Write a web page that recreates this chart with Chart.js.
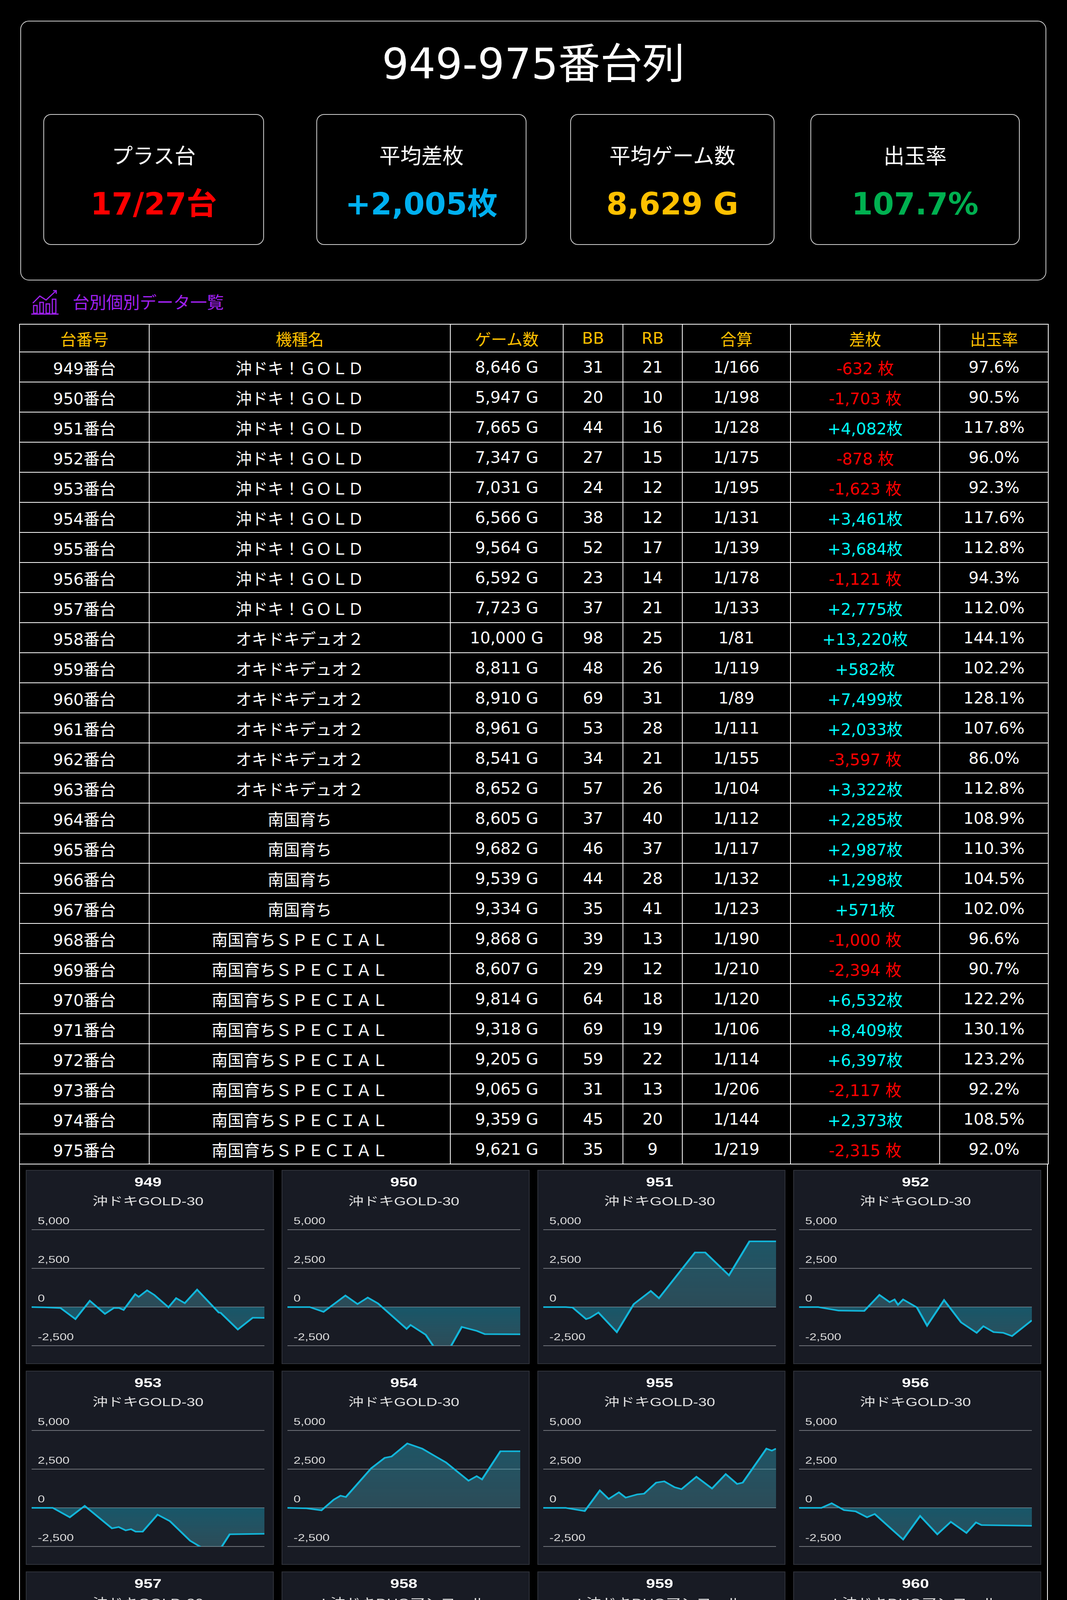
<!DOCTYPE html>
<html lang="ja">
<head>
<meta charset="utf-8">
<title>949-975番台列</title>
<script src="https://cdn.jsdelivr.net/npm/chart.js@4.4.1/dist/chart.umd.min.js"></script>
<style>
html, body { margin: 0; padding: 0; background: #000; }
body {
    width: 2732px; height: 6664px; position: relative; overflow: hidden;
    font-family: "DejaVu Sans", "Noto Sans CJK JP", sans-serif; color: #fff;
}
.summary {
    position: absolute; left: 52px; top: 53px; width: 2627px; height: 665px;
    box-sizing: border-box; border: 2px solid #cfcfcf; border-radius: 22px;
}
.summary h1 {
    position: absolute; left: 0; right: 0; top: 49px; margin: 0;
    text-align: center; font-weight: normal; font-size: 108px; line-height: 120px;
}
.stat {
    position: absolute; top: 292px; height: 335px; box-sizing: border-box;
    border: 2px solid #cfcfcf; border-radius: 20px; text-align: center;
}
.stat .label { position: absolute; left: 0; right: 0; top: 72px; font-size: 54px; line-height: 70px; }
.stat .value { position: absolute; left: 0; right: 0; top: 178px; font-size: 78px; line-height: 100px; font-weight: bold; }
.section {
    position: absolute; left: 186px; top: 750px; font-size: 43px; line-height: 50px; color: #a020f0;
}
.section-icon { position: absolute; left: 78px; top: 740px; }
table.units {
    position: absolute; left: 49px; top: 829px; width: 2634px;
    border-collapse: collapse; table-layout: fixed;
}
table.units th, table.units td {
    border: 2px solid #fff; padding: 0; text-align: center; font-size: 41px; font-weight: normal;
    white-space: nowrap; overflow: hidden;
}
table.units th { color: #ffc000; height: 69px; }
table.units td { height: 75px; }
.frame {
    position: absolute; left: 49px; top: 2979px; width: 2634px; height: 3629px;
    box-sizing: border-box; border: 2px solid #fff; border-top: none;
}
.rule { position: absolute; left: 49px; width: 2634px; height: 3px; background: #fff; }
.card {
    position: absolute; width: 635px; height: 497px; box-sizing: border-box;
    background: #181b24; border: 2px solid #30333b;
}
.card canvas { position: absolute; left: 0; top: 0; width: 631px !important; height: 493px !important; }
</style>
</head>
<body>

<div class="summary"><h1 id="pageTitle"></h1></div>
<div class="stat" style="left:111px; width:565px;"><div class="label">プラス台</div><div class="value" id="statPlus" style="color:#ff0000"></div></div>
<div class="stat" style="left:810px; width:538px;"><div class="label">平均差枚</div><div class="value" id="statDiff" style="color:#00b0f0"></div></div>
<div class="stat" style="left:1460px; width:523px;"><div class="label">平均ゲーム数</div><div class="value" id="statGames" style="color:#ffc000"></div></div>
<div class="stat" style="left:2075px; width:536px;"><div class="label">出玉率</div><div class="value" id="statRate" style="color:#00b050"></div></div>

<svg class="section-icon" width="75" height="67" viewBox="0 0 75 67">
  <g fill="none" stroke="#a020f0" stroke-width="3">
    <rect x="8" y="42" width="9" height="20"/>
    <rect x="24" y="34" width="9" height="28"/>
    <rect x="40" y="38" width="9" height="24"/>
    <rect x="56" y="26" width="9" height="36"/>
    <polyline points="6,36 24,18 40,28 66,4"/>
    <polyline points="58,4 66,4 66,12"/>
    <line x1="2" y1="64" x2="72" y2="64"/>
  </g>
</svg>
<div class="section">台別個別データ一覧</div>

<table class="units" id="unitTable">
  <colgroup>
    <col style="width:332px"><col style="width:771px"><col style="width:289px"><col style="width:153px">
    <col style="width:152px"><col style="width:277px"><col style="width:382px"><col style="width:278px">
  </colgroup>
  <thead><tr id="headRow"></tr></thead>
  <tbody id="tableBody"></tbody>
</table>

<div class="frame"></div>
<div class="rule" style="top:4253px"></div>
<div class="rule" style="top:5527px"></div>
<div id="cards"></div>

<script>
// ---- table data ----
const headers = ['台番号', '機種名', 'ゲーム数', 'BB', 'RB', '合算', '差枚', '出玉率'];
const unitNos = [949, 950, 951, 952, 953, 954, 955, 956, 957, 958, 959, 960, 961, 962,
                 963, 964, 965, 966, 967, 968, 969, 970, 971, 972, 973, 974, 975];
const modelNames = [
    '沖ドキ！ＧＯＬＤ', '沖ドキ！ＧＯＬＤ', '沖ドキ！ＧＯＬＤ', '沖ドキ！ＧＯＬＤ', '沖ドキ！ＧＯＬＤ',
    '沖ドキ！ＧＯＬＤ', '沖ドキ！ＧＯＬＤ', '沖ドキ！ＧＯＬＤ', '沖ドキ！ＧＯＬＤ',
    'オキドキデュオ２', 'オキドキデュオ２', 'オキドキデュオ２', 'オキドキデュオ２', 'オキドキデュオ２', 'オキドキデュオ２',
    '南国育ち', '南国育ち', '南国育ち', '南国育ち',
    '南国育ちＳＰＥＣＩＡＬ', '南国育ちＳＰＥＣＩＡＬ', '南国育ちＳＰＥＣＩＡＬ', '南国育ちＳＰＥＣＩＡＬ',
    '南国育ちＳＰＥＣＩＡＬ', '南国育ちＳＰＥＣＩＡＬ', '南国育ちＳＰＥＣＩＡＬ', '南国育ちＳＰＥＣＩＡＬ'
];
const gameCounts = [8646, 5947, 7665, 7347, 7031, 6566, 9564, 6592, 7723, 10000, 8811, 8910, 8961, 8541,
                    8652, 8605, 9682, 9539, 9334, 9868, 8607, 9814, 9318, 9205, 9065, 9359, 9621];
const bbCounts = [31, 20, 44, 27, 24, 38, 52, 23, 37, 98, 48, 69, 53, 34, 57, 37, 46, 44, 35, 39, 29, 64, 69, 59, 31, 45, 35];
const rbCounts = [21, 10, 16, 15, 12, 12, 17, 14, 21, 25, 26, 31, 28, 21, 26, 40, 37, 28, 41, 13, 12, 18, 19, 22, 13, 20, 9];
const totalOdds = [166, 198, 128, 175, 195, 131, 139, 178, 133, 81, 119, 89, 111, 155,
                   104, 112, 117, 132, 123, 190, 210, 120, 106, 114, 206, 144, 219];
const coinDiffs = [-632, -1703, 4082, -878, -1623, 3461, 3684, -1121, 2775, 13220, 582, 7499, 2033, -3597,
                   3322, 2285, 2987, 1298, 571, -1000, -2394, 6532, 8409, 6397, -2117, 2373, -2315];
const payoutRates = [97.6, 90.5, 117.8, 96.0, 92.3, 117.6, 112.8, 94.3, 112.0, 144.1, 102.2, 128.1, 107.6, 86.0,
                     112.8, 108.9, 110.3, 104.5, 102.0, 96.6, 90.7, 122.2, 130.1, 123.2, 92.2, 108.5, 92.0];

// ---- small chart data: [x (% of the day), 差枚] ----
const chartModels = [
    '沖ドキGOLD-30', '沖ドキGOLD-30', '沖ドキGOLD-30', '沖ドキGOLD-30', '沖ドキGOLD-30',
    '沖ドキGOLD-30', '沖ドキGOLD-30', '沖ドキGOLD-30', '沖ドキGOLD-30',
    'L沖ドキDUOアンコール', 'L沖ドキDUOアンコール', 'L沖ドキDUOアンコール',
    'L沖ドキDUOアンコール', 'L沖ドキDUOアンコール', 'L沖ドキDUOアンコール',
    'L南国育ち', 'L南国育ち', 'L南国育ち', 'L南国育ち',
    'L南国育ちSP', 'L南国育ちSP', 'L南国育ちSP', 'L南国育ちSP',
    'L南国育ちSP', 'L南国育ちSP', 'L南国育ちSP', 'L南国育ちSP'
];
const yTicks = [-2500, 0, 2500, 5000];

const s949 = [[0,0],[6,-20],[12.4,-60],[18.8,-777],[25,405],[31.5,-440],[35.3,-60],[37.6,-60],[39.5,-185],[44.5,830],[46,660],[49.6,1080],[52.7,785],[58.8,-17],[62.1,575],[65.8,253],[71.1,1125],[80.4,-355],[81.2,-370],[88.6,-1450],[95,-690],[100,-700]];
const s950 = [[0,0],[9.6,0],[15.5,-310],[24.9,745],[30.1,195],[34.5,615],[38.9,235],[51.2,-1410],[52.9,-1160],[59.4,-1790],[63.5,-2700],[69.6,-2700],[74.9,-1285],[81.3,-1540],[84.8,-1750],[100,-1760]];
const s951 = [[0,0],[9.6,0],[12.6,-30],[18.4,-777],[20,-700],[23.7,-355],[31.6,-1620],[38.9,195],[46.2,1040],[49.7,575],[65.2,3530],[69.6,3530],[79.8,2055],[88.6,4250],[100,4250]];
const s952 = [[0,0],[8.2,0],[17,-230],[28,-250],[34.5,785],[38.9,320],[41,490],[42.5,150],[44.7,490],[50.6,-20],[55,-1200],[62.3,450],[69.6,-990],[76.3,-1665],[79.2,-1240],[83.6,-1620],[87.7,-1665],[91.5,-1875],[100,-860]];
const s953 = [[0,0],[9.1,0],[16.4,-610],[22.8,125],[34.5,-1325],[37.4,-1240],[40.4,-1455],[42.7,-1380],[44.7,-1540],[47.7,-1540],[54.1,-440],[59.4,-860],[68.1,-2130],[73.4,-2600],[81.3,-2600],[85.1,-1710],[100,-1680]];
const s954 = [[0,0],[8.2,-30],[14.6,-160],[19.9,530],[22.8,785],[25.1,700],[36,2560],[41.8,3235],[44.7,3320],[51.5,4165],[57.9,3830],[63.7,3320],[68.1,2940],[77.8,1755],[81.3,2050],[83.6,1840],[91.5,3660],[100,3660]];
const s955 = [[0,0],[9.6,0],[17.8,-210],[24.3,1125],[28.1,575],[32.5,1000],[35.4,660],[40.4,870],[43.3,915],[48.5,1630],[52,1715],[56.4,1335],[59.4,1210],[65.8,2010],[72.5,1250],[78.4,2180],[83.3,1545],[85.7,1630],[95.9,3830],[98.2,3700],[100,3830]];
const s956 = [[0,0],[9.6,0],[14,295],[19.3,-145],[24.3,-230],[29.2,-610],[32.5,-400],[44.7,-2045],[52,-525],[59.4,-1710],[65.2,-905],[71.9,-1620],[76,-945],[78.4,-1115],[100,-1160]];
const s957 = [[0,0],[9.1,0],[14,575],[16,500],[19,955],[20.5,900],[24.3,1545],[27.2,1410],[33.9,575],[43.3,2560],[50,1925],[53.5,1590],[57.9,1210],[59.9,1210],[63.2,1760],[67.5,1210],[76,3090],[79.2,2900],[82.7,2855],[85.7,2600],[90.1,3070],[93,3070],[100,2900]];
const s958 = [[0,0],[12.6,0],[16.4,-525],[19,-820],[22.8,-145],[27.2,-905],[31,-1495],[34.5,-440],[36.8,-860],[39.2,-740],[46.2,870],[52,-145],[58.5,-860],[67.3,2520],[71,4120],[75.4,5500],[100,13220]];
const s959 = [[0,0],[9.6,0],[12,-230],[14.9,320],[21.9,-735],[25.7,-60],[33,-1240],[35.9,-780],[46.2,-2085],[48.5,-1495],[50,-1750],[54.1,-945],[56.4,-1410],[60.8,-440],[63.7,-565],[68.1,-1070],[70.2,-820],[72.5,-1070],[76.3,-355],[78.4,-400],[84.8,-1240],[100,575]];
const s960 = [[0,0],[5.8,-30],[8.2,-60],[15.5,-990],[22.8,490],[25.1,450],[30.1,955],[33,575],[36.5,1040],[42.7,25],[47.1,915],[49.1,785],[53.5,1505],[57.3,870],[60.2,1335],[63.7,2435],[75.4,6700],[100,7499]];
const s961 = [[0,0],[10.2,0],[15.5,-650],[17.8,110],[27.2,2265],[28.7,2180],[32.2,2730],[36.5,2220],[42.4,3550],[52,1970],[59,1210],[61.7,1545],[63,1545],[69.6,2900],[71.6,2560],[75.4,3615],[79.8,2855],[82.2,3365],[88.6,2140],[100,2140]];
const s962 = [[0,0],[9.6,0],[17,-1200],[22.8,110],[30.1,-820],[32.5,-440],[35.1,-860],[38.3,-60],[45.3,-1070],[49.1,-690],[51.5,-730],[55.6,-1495],[59.4,-905],[66.1,-1960],[71,-990],[76.9,-1705],[82.2,-2550],[100,-3597]];
const s963 = [[0,0],[9.1,0],[15.5,-440],[19.9,-1160],[23.7,-780],[27.8,-1370],[30.1,-1285],[35.1,-1835],[40.4,-735],[41.8,-950],[56.4,4000],[62.9,3070],[66.7,3615],[70.2,3025],[72.5,3320],[80.4,1970],[88.6,3450],[100,3490]];
const s964 = [[0,0],[8.2,0],[13.5,365],[21.3,-1115],[30.1,1840],[34.5,2645],[40.4,2010],[42.7,1970],[45.6,2265],[48.5,2055],[57.9,405],[61.7,1335],[64.3,1290],[68.1,870],[74,2010],[76,1920],[78.1,2475],[80.4,2095],[83.3,2435],[85.7,2220],[88.6,2690],[92,2600],[100,2435]];
const s965 = [[0,0],[9.1,60],[11.1,-110],[14,525],[16.1,500],[20.8,-235],[24.9,-660],[29.5,-1125],[35.4,735],[36.5,800],[41.8,1840],[45.6,1290],[50.6,2685],[52,2560],[54.4,2730],[58.8,2135],[62.9,3110],[65.8,2685],[68.1,2980],[73.1,1925],[76,2600],[79.2,2430],[83.6,3065],[87.1,4040],[94.4,3195],[100,3110]];
const s966 = [[0,0],[6.7,-70],[12.6,-405],[18.4,145],[22.2,735],[26.3,355],[30.7,60],[36,-405],[40.4,-955],[42.4,-660],[44.7,-790],[50,-1590],[57.9,820],[63.7,-280],[70.2,2640],[76.9,1920],[79.2,2050],[85.7,1120],[87.7,1585],[90.1,1455],[92.1,1540],[100,1330]];
const s967 = [[0,0],[3.8,15],[8.2,-70],[12.6,315],[14.9,185],[17,480],[19.9,270],[21.9,270],[25.7,-150],[28.1,-100],[31.6,440],[34.5,695],[40.4,230],[44.7,820],[47.1,650],[51.2,905],[60.8,230],[66.7,480],[69,520],[71.9,780],[78.4,-235],[80.4,270],[84.2,-235],[88.6,270],[93.9,695],[100,595]];
const s968 = [[0,0],[7.6,60],[12.6,480],[19.9,-405],[22.2,-405],[24.3,-575],[26.3,-280],[36.5,-1720],[41.2,-2015],[47.7,-1085],[56.4,-2185],[59.4,-2015],[65.2,-2600],[66.7,-2600],[74.9,-620],[80.7,-1210],[82.7,-955],[91.5,-2145],[100,-1040]];
const s969 = [[0,0],[5.3,-25],[10.2,-70],[15.5,-745],[22.2,-1845],[27.2,-705],[31.6,-1340],[37.4,-2185],[40.4,-2600],[59.4,-2600],[61.7,-2270],[64.6,-2525],[71,-2600],[77.5,-1635],[82.7,-2600],[86.5,-2440],[100,-2440]];
const s970 = [[0,0],[8.2,-70],[11.1,-195],[19.9,-1510],[24.3,-1635],[30.1,-2185],[41.8,440],[46.2,-70],[51.5,-535],[55,-280],[57.9,-705],[60.2,-620],[68.1,-1465],[74,-620],[77.8,315],[81.3,695],[87.1,2560],[100,6532]];
const s971 = [[0,0],[9.6,-25],[14,-320],[18.4,-705],[21.3,-1040],[25.7,-1510],[28.7,-1590],[37.4,-195],[40.4,-535],[43.3,-580],[49.1,-1510],[52,-1675],[54.9,-1630],[59.9,-2060],[68.1,-280],[72.5,-745],[76.3,-405],[77.5,-405],[100,8409]];
const s972 = [[0,0],[9.6,-70],[17,1370],[20.5,1585],[25.7,820],[28.1,1120],[40.4,6000],[60.2,5800],[65.2,4970],[72.5,4165],[79.8,5600],[100,6397]];
const s973 = [[0,0],[5.3,-40],[9.1,-135],[15.5,-905],[17.8,-810],[20.8,-810],[26.6,0],[30.7,875],[35.4,300],[38.9,-40],[43.3,-665],[46.2,-570],[48.2,-855],[51.2,-520],[57.3,-1335],[59.4,-1240],[64.6,-1675],[71,-570],[76.9,-1190],[78.4,-1240],[82.7,-1770],[84.8,-1575],[90.1,-2345],[100,-2250]];
const s974 = [[0,0],[5.3,-40],[8.2,-135],[14,-665],[16.4,-375],[21.3,-950],[28.1,-1675],[30.7,-1530],[38.9,105],[43.9,-470],[46.2,-280],[54.4,1550],[60.2,2940],[62.3,2900],[66.1,3325],[73.1,2460],[76.9,2365],[81.3,2030],[87.1,2895],[91.5,2440],[100,2460]];
const s975 = [[0,0],[4.4,-85],[8.2,-185],[12,-135],[14.9,-425],[17,-570],[23.1,345],[27.2,-85],[33.6,-1000],[40.4,-1865],[46.8,-2540],[50,-2700],[92,-2700],[94.4,-2600],[96.8,-2200],[100,-2395]];

const chartSeries = [s949, s950, s951, s952, s953, s954, s955, s956, s957, s958, s959, s960, s961, s962,
                     s963, s964, s965, s966, s967, s968, s969, s970, s971, s972, s973, s974, s975];

const fmt = (v) => v.toLocaleString('en-US');

// ---- summary block ----
document.getElementById('pageTitle').textContent = unitNos[0] + '-' + unitNos[unitNos.length - 1] + '番台列';
const plusCount = coinDiffs.filter(v => v > 0).length;
const diffSum = coinDiffs.reduce((a, b) => a + b, 0);
const gameSum = gameCounts.reduce((a, b) => a + b, 0);
document.getElementById('statPlus').textContent = plusCount + '/' + unitNos.length + '台';
document.getElementById('statDiff').textContent = '+' + fmt(Math.round(diffSum / unitNos.length)) + '枚';
document.getElementById('statGames').textContent = fmt(Math.round(gameSum / unitNos.length)) + ' G';
document.getElementById('statRate').textContent = ((1 + diffSum / (gameSum * 3)) * 100).toFixed(1) + '%';

// ---- table ----
const headRow = document.getElementById('headRow');
headers.forEach(h => {
    const th = document.createElement('th');
    th.textContent = h;
    headRow.appendChild(th);
});
const body = document.getElementById('tableBody');
unitNos.forEach((no, i) => {
    const tr = document.createElement('tr');
    const d = coinDiffs[i];
    const diffText = d < 0 ? '-' + fmt(-d) + ' 枚' : '+' + fmt(d) + '枚';
    const cells = [no + '番台', modelNames[i], fmt(gameCounts[i]) + ' G', bbCounts[i], rbCounts[i],
                   '1/' + totalOdds[i], diffText, payoutRates[i].toFixed(1) + '%'];
    cells.forEach((c, j) => {
        const td = document.createElement('td');
        td.textContent = c;
        if (j === 6) td.style.color = d < 0 ? '#ff0000' : '#00ffff';
        tr.appendChild(td);
    });
    body.appendChild(tr);
});

// ---- mini charts ----
Chart.defaults.font.family = "'Liberation Sans', Arial, 'Noto Sans CJK JP', sans-serif";

// fill: bluish at the top of each side, greyer towards the bottom of it
function fillGradient(context) {
    const chart = context.chart;
    const area = chart.chartArea;
    if (!area) return 'rgba(24,160,190,0.4)';
    const zero = chart.scales.y.getPixelForValue(0);
    const f = Math.min(Math.max((zero - area.top) / (area.bottom - area.top), 0.01), 0.99);
    const g = chart.ctx.createLinearGradient(0, area.top, 0, area.bottom);
    g.addColorStop(0, 'rgba(24,160,190,0.45)');
    g.addColorStop(f - 0.002, 'rgba(90,190,210,0.30)');
    g.addColorStop(f, 'rgba(24,160,190,0.45)');
    g.addColorStop(1, 'rgba(90,190,210,0.30)');
    return g;
}

const cardsEl = document.getElementById('cards');
unitNos.forEach((no, i) => {
    const card = document.createElement('div');
    card.className = 'card';
    card.style.left = (66 + (i % 4) * 655) + 'px';
    card.style.top = (2995 + Math.floor(i / 4) * 514) + 'px';
    const cv = document.createElement('canvas');
    cv.width = 485;
    cv.height = 493;
    card.appendChild(cv);
    cardsEl.appendChild(card);

    new Chart(cv.getContext('2d'), {
        type: 'line',
        data: {
            datasets: [{
                data: chartSeries[i].map(p => ({x: p[0], y: p[1]})),
                borderColor: '#12b6da',
                borderWidth: 4,
                backgroundColor: fillGradient,
                fill: 'origin',
                pointRadius: 0,
                tension: 0
            }]
        },
        options: {
            responsive: false,
            devicePixelRatio: 2,
            animation: false,
            events: [],
            layout: { padding: { left: 10, right: 17, top: 0, bottom: 45 } },
            plugins: {
                legend: { display: false },
                tooltip: { enabled: false },
                title: {
                    display: true, text: String(no), color: '#ffffff',
                    font: { size: 32, weight: 'bold' }, padding: { top: 12, bottom: 12 }
                },
                subtitle: {
                    display: true, text: chartModels[i], color: '#e4e4e4',
                    font: { size: 30 }, padding: { top: 0, bottom: 37 }
                }
            },
            scales: {
                x: { type: 'linear', min: 0, max: 100, display: false },
                y: {
                    min: -2500,
                    max: 5400,
                    afterBuildTicks: (scale) => { scale.ticks = yTicks.map(v => ({ value: v })); },
                    afterFit: (scale) => { scale.width = 0; },
                    ticks: {
                        mirror: true, padding: 12, labelOffset: -21, color: '#dcdcdc',
                        font: { size: 25 }, callback: (v) => fmt(v)
                    },
                    grid: { color: '#6f7279', lineWidth: 2, drawTicks: false },
                    border: { display: false }
                }
            }
        }
    });
});
</script>
</body>
</html>
